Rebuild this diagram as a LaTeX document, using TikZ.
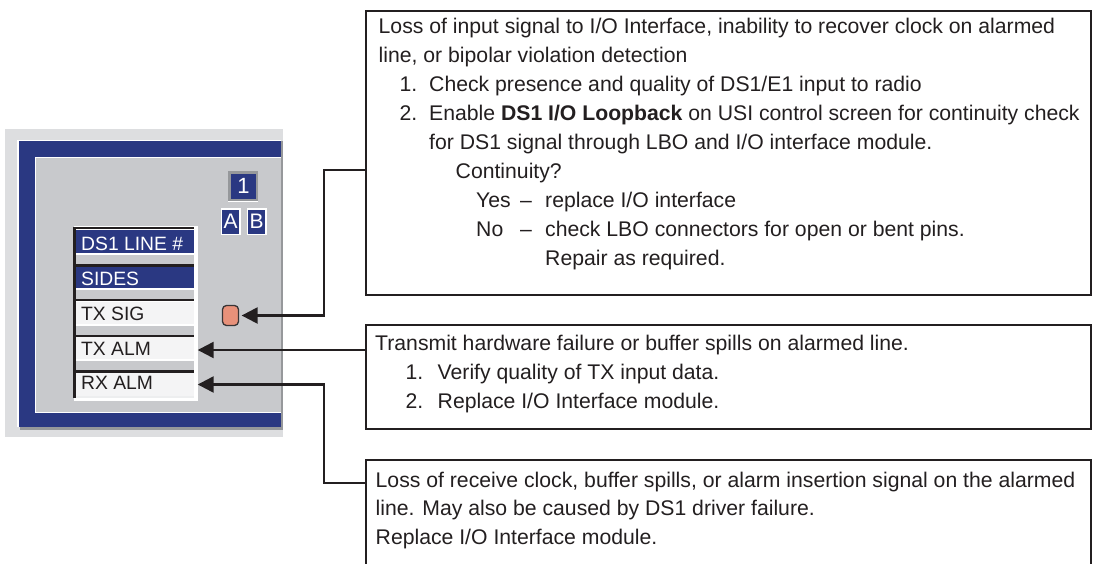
\documentclass[tikz,border=0pt]{standalone}
\usepackage{fontspec}
\setmainfont{Liberation Sans}
\usetikzlibrary{arrows.meta}
\definecolor{ink}{RGB}{35,31,32}
\definecolor{navy}{RGB}{42,56,130}
\definecolor{panelgray}{RGB}{200,201,204}
\definecolor{outergray}{RGB}{221,222,224}
\definecolor{shadowgray}{RGB}{150,152,155}
\definecolor{rowwhite}{RGB}{244,244,245}
\definecolor{ledfill}{RGB}{232,145,122}
\newcommand\boxfont{\fontsize{21.2}{24}\selectfont}
\newcommand\rowfont{\fontsize{19.3}{22}\selectfont}
\tikzset{
  box/.style={draw=ink, line width=2.2pt, fill=white, rectangle, inner sep=0pt, anchor=north west, minimum width=725pt},
  txt/.style={anchor=base west, inner sep=0pt, font=\boxfont, text=ink},
  rowtxt/.style={anchor=base west, inner sep=0pt, font=\rowfont, text=ink},
  rowfill/.style={rectangle, inner sep=0pt, anchor=north west, minimum width=118pt, draw=none},
  conn/.style={draw=ink, line width=2.4pt, -{Triangle[length=16pt,width=16pt]}},
  tag/.style={fill=navy, text=white, inner sep=0pt, rectangle}
}
\begin{document}
\begin{tikzpicture}[x=1pt,y=-1pt]
\useasboundingbox (0,0) rectangle (1093,563);
\fill[white] (0,0) rectangle (1093,563);
\clip (0,0) rectangle (1093,563);
% ---------------- panel ----------------
\fill[outergray] (5,129) rectangle (282.5,437);
\fill[shadowgray] (20,142.5) rectangle (282.5,429.5);
\fill[white] (17.3,139.5) rectangle (280.5,427.3);
\fill[navy] (18.5,140.7) rectangle (280.5,427.3);
\fill[white] (35,156.7) rectangle (280.5,413);
\fill[panelgray] (36,157.7) rectangle (280.5,412);
\fill[shadowgray] (280.5,140.7) rectangle (282.5,429.5);
% number tag and side tags
\fill[white] (228.3,170.7) rectangle (258.3,201.5);
\fill[shadowgray] (228.3,170.7) rectangle (257.6,200.6);
\node[tag, minimum width=24.5pt, minimum height=25pt, font=\fontsize{22}{24}\selectfont] (num) at (243.5,186.2) {1};
\fill[white] (220.7,208.3) rectangle (240.7,235);
\node[tag, minimum width=17.5pt, minimum height=24pt, font=\fontsize{21}{24}\selectfont] (tagA) at (230.7,221.5) {A};
\fill[white] (246.7,208.3) rectangle (266.7,235);
\node[tag, minimum width=17.5pt, minimum height=24pt, font=\fontsize{21}{24}\selectfont] (tagB) at (256.7,221.5) {B};
% list frame
\node[rectangle, fill=white, inner sep=0pt, minimum width=124pt, minimum height=175pt, anchor=north west] (list) at (73.3,226) {};
\fill[ink] (73.3,226.5) rectangle (76,398.3);
% gaps
\fill[panelgray] (76,255) rectangle (194,264.3);
\fill[panelgray] (76,289.6) rectangle (194,298.8);
\fill[panelgray] (76,325.5) rectangle (194,334.6);
\fill[panelgray] (76,360.6) rectangle (194,370);
\fill[rowwhite!85!panelgray] (76,396) rectangle (194,398.3);
% rows: black top lines
\fill[ink] (76,226.5) rectangle (194,229.3);
\fill[ink] (76,264.3) rectangle (194,266.9);
\fill[ink] (76,298.8) rectangle (194,301.4);
\fill[ink] (76,334.6) rectangle (194,337.2);
\fill[ink] (76,370) rectangle (194,372.6);
% row fills
\node[rowfill, fill=navy, minimum height=23.4pt] (row1) at (76,229.3) {};
\node[rowfill, fill=navy, minimum height=20.8pt] (row2) at (76,266.9) {};
\node[rowfill, fill=rowwhite, minimum height=21.9pt] (row3) at (76,301.4) {};
\node[rowfill, fill=rowwhite, minimum height=21.1pt] (row4) at (76,337.2) {};
\node[rowfill, fill=rowwhite, minimum height=23.4pt] (row5) at (76,372.6) {};
\node[rowtxt, text=white] (r1t) at (81,250) {DS1 LINE \#};
\node[rowtxt, text=white] (r2t) at (81,285) {SIDES};
\node[rowtxt] (r3t) at (81,320) {TX SIG};
\node[rowtxt] (r4t) at (81,355) {TX ALM};
\node[rowtxt] (r5t) at (81,389.5) {RX ALM};
% LED
\node[rectangle, rounded corners=4pt, draw=ink!90, line width=1.3pt, fill=ledfill, minimum width=16pt, minimum height=20pt, inner sep=0pt] (led) at (230.5,315.5) {};
% ---------------- text boxes ----------------
\node[box, minimum height=284.5pt] (b1) at (365,9.5) {};
\node[box, minimum height=104pt] (b2) at (365,324) {};
\node[box, minimum height=150pt] (b3) at (365,459) {};
% box 1 text
\node[txt] (a1) at (378.5,33.5) {Loss of input signal to I/O Interface, inability to recover clock on alarmed};
\node[txt] (a2) at (378.5,62.5) {line, or bipolar violation detection};
\node[txt] (a3n) at (399.5,91.5) {1.};
\node[txt] (a3) at (429,91.5) {Check presence and quality of DS1/E1 input to radio};
\node[txt] (a4n) at (399.5,120.5) {2.};
\node[txt] (a4) at (429,120.5) {Enable \textbf{DS1 I/O Loopback} on USI control screen for continuity check};
\node[txt] (a5) at (429,149.5) {for DS1 signal through LBO and I/O interface module.};
\node[txt] (a6) at (455.5,178.5) {Continuity?};
\node[txt] (a7y) at (476,207.5) {Yes};
\node[txt] (a7d) at (520,207.5) {–};
\node[txt] (a7) at (545,207.5) {replace I/O interface};
\node[txt] (a8y) at (476,236.5) {No};
\node[txt] (a8d) at (520,236.5) {–};
\node[txt] (a8) at (545,236.5) {check LBO connectors for open or bent pins.};
\node[txt] (a9) at (545,265.5) {Repair as required.};
% box 2 text
\node[txt] (c1) at (375,350) {Transmit hardware failure or buffer spills on alarmed line.};
\node[txt] (c2n) at (405.5,379) {1.};
\node[txt] (c2) at (437.5,379) {Verify quality of TX input data.};
\node[txt] (c3n) at (405.5,408) {2.};
\node[txt] (c3) at (437.5,408) {Replace I/O Interface module.};
% box 3 text
\node[txt] (d1) at (375.5,487) {Loss of receive clock, buffer spills, or alarm insertion signal on the alarmed};
\node[txt] (d2) at (375.5,515.5) {line. May also be caused by DS1 driver failure.};
\node[txt] (d3) at (375.5,544) {Replace I/O Interface module.};
% ---------------- connectors ----------------
\coordinate (p1) at ([yshift=-160.5pt]b1.north west);
\coordinate (k1) at (324,170);
\draw[conn, shorten >=2.5pt] (p1) -- (k1) |- (led.east);
\coordinate (p2) at ([yshift=-26pt]b2.north west);
\draw[conn] (p2) -- (p2 -| list.east);
\coordinate (p3) at ([yshift=-24pt]b3.north west);
\coordinate (k3) at (324,483);
\draw[conn] (p3) -- (k3) |- (list.east |- row5.center);
\end{tikzpicture}
\end{document}
